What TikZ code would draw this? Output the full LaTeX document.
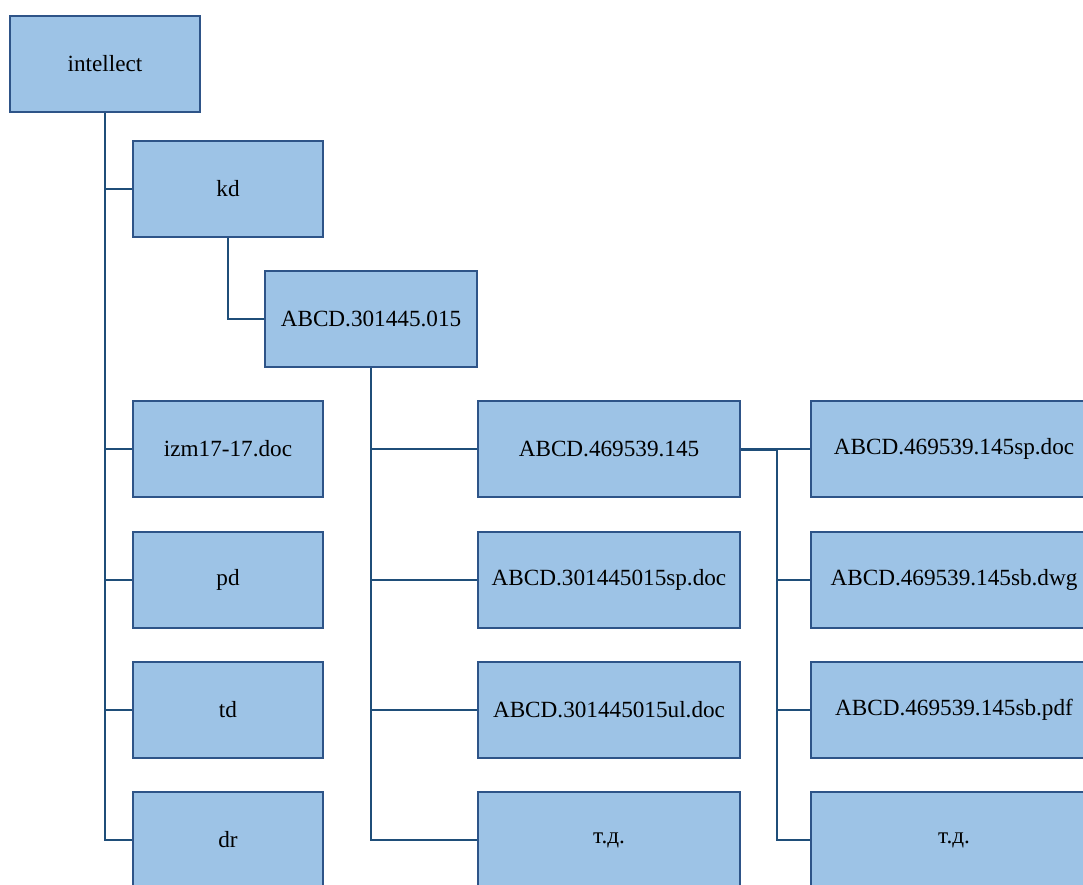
\documentclass[tikz,border=0pt]{standalone}
\usepackage{fontspec}
\setmainfont{Liberation Serif}
\usetikzlibrary{positioning}
\definecolor{boxfill}{RGB}{157,195,230}
\definecolor{boxline}{RGB}{46,84,136}
\definecolor{linkblue}{RGB}{31,78,121}

\begin{document}
\begin{tikzpicture}[
  x=1pt, y=-1pt,
  folder/.style={rectangle, draw=boxline, fill=boxfill, line width=1.4pt,
                 minimum width=190pt, minimum height=96pt, inner sep=0pt,
                 font=\fontsize{23.2}{27}\selectfont},
  wide/.style={folder, minimum width=262pt},
  wider/.style={folder, minimum width=286pt},
  link/.style={draw=linkblue, line width=1.8pt},
]
\useasboundingbox (0,0) rectangle (1083,885);
\clip (0,0) rectangle (1083,885);

% Root and first level
\node[folder] (intellect) at (105,64) {intellect};
\node[folder] (kd) at (228,189) {kd};
\node[folder, minimum width=212pt] (abcd015) at (371,319) {ABCD.301445.015};
\node[folder] (izm) at (228,449) {izm17-17.doc};
\node[folder] (pd) at (228,580) {pd};
\node[folder] (td) at (228,710) {td};
\node[folder] (dr) at (228,840) {dr};

% Contents of ABCD.301445.015
\node[wide] (abcd145) at (609,449) {ABCD.469539.145};
\node[wide] (abcdsp) at (609,580) {ABCD.301445015sp.doc};
\node[wide] (abcdul) at (609,710) {ABCD.301445015ul.doc};
\node[wide] (etcA) at (609,840) {т.д.};

% Contents of ABCD.469539.145
\node[wider] (sp145) at (954,449) {ABCD.469539.145sp.doc};
\node[wider] (dwg145) at (954,580) {ABCD.469539.145sb.dwg};
\node[wider] (pdf145) at (954,710) {ABCD.469539.145sb.pdf};
\node[wider] (etcB) at (954,840) {т.д.};

% Connectors
\draw[link] (intellect.south) |- (dr.west);
\foreach \n in {kd, izm, pd, td} {
  \draw[link] (intellect.south |- \n.west) -- (\n.west);
}
\draw[link] (kd.south) |- (abcd015.west);
\draw[link] (abcd015.south) |- (etcA.west);
\foreach \n in {abcd145, abcdsp, abcdul} {
  \draw[link] (abcd015.south |- \n.west) -- (\n.west);
}
\coordinate[right=36pt of abcd145.east] (hub);
\draw[link] (abcd145.east) -- (sp145.west);
\draw[link] ([yshift=-1pt]abcd145.east) -| ([yshift=-1pt]hub) |- (etcB.west);
\foreach \n in {dwg145, pdf145} {
  \draw[link] (hub |- \n.west) -- (\n.west);
}

\end{tikzpicture}
\end{document}
